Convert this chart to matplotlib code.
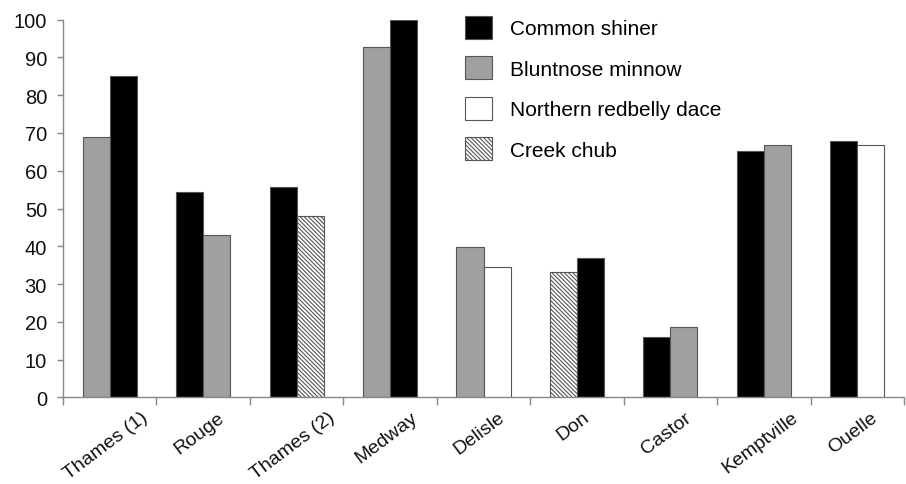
import numpy as np
import matplotlib
matplotlib.use('Agg')
import matplotlib.pyplot as plt
from matplotlib.patches import Patch
from matplotlib.transforms import ScaledTranslation

plt.rcParams['font.family'] = ['Liberation Sans', 'DejaVu Sans']
plt.rcParams['hatch.linewidth'] = 0.8
plt.rcParams['hatch.color'] = '#222222'

# percent of fish per site, two species per site (left bar, right bar)
sites = ['Thames (1)', 'Rouge', 'Thames (2)', 'Medway', 'Delisle', 'Don',
         'Castor', 'Kemptville', 'Ouelle']
left_species = ['Bluntnose minnow', 'Common shiner', 'Common shiner',
                'Bluntnose minnow', 'Bluntnose minnow', 'Creek chub',
                'Common shiner', 'Common shiner', 'Common shiner']
left_values = [69, 54.4, 55.7, 92.9, 39.8, 33.1, 16.1, 65.1, 67.8]
right_species = ['Common shiner', 'Bluntnose minnow', 'Creek chub',
                 'Common shiner', 'Northern redbelly dace', 'Common shiner',
                 'Bluntnose minnow', 'Bluntnose minnow', 'Northern redbelly dace']
right_values = [85, 43.1, 48.1, 100, 34.6, 37.0, 18.7, 66.9, 66.9]

legend_order = ['Common shiner', 'Bluntnose minnow', 'Northern redbelly dace', 'Creek chub']
edge = '#555555'
styles = {
    'Common shiner': dict(facecolor='black', edgecolor=edge),
    'Bluntnose minnow': dict(facecolor='#a0a0a0', edgecolor=edge),
    'Northern redbelly dace': dict(facecolor='white', edgecolor=edge),
    'Creek chub': dict(facecolor='white', edgecolor=edge, hatch='\\' * 8),
}

W, H = 906, 485
fig = plt.figure(figsize=(W / 100, H / 100), dpi=100)
ax = fig.add_axes([63 / W, (H - 398.3) / H, (904 - 63) / W, (398.3 - 20.7) / H])

w = 0.29
for i in range(len(sites)):
    c = i + 0.5
    ax.bar(c - w / 2, left_values[i], w, linewidth=0.8, **styles[left_species[i]])
    ax.bar(c + w / 2, right_values[i], w, linewidth=0.8, **styles[right_species[i]])

ax.set_xlim(0, len(sites))
ax.set_ylim(0, 100)

axis_grey = '#888888'
for s in ['top', 'right']:
    ax.spines[s].set_visible(False)
for s in ['left', 'bottom']:
    ax.spines[s].set_color(axis_grey)
    ax.spines[s].set_linewidth(1.0)

ax.set_yticks(np.arange(0, 101, 10))
ax.tick_params(axis='y', direction='out', length=4.5, width=1.0, color=axis_grey,
               pad=7, labelsize=14.5, labelcolor='#111111')

# category boundaries get the tick marks, names sit at the centres
ax.set_xticks(np.arange(0, len(sites) + 1))
ax.set_xticklabels([])
ax.set_xticks(np.arange(len(sites)) + 0.5, minor=True)
ax.set_xticklabels(sites, minor=True, rotation=37, ha='center', va='top',
                   fontsize=14, color='#111111')
ax.tick_params(axis='x', which='major', direction='out', length=6, width=1.0, color=axis_grey)
ax.tick_params(axis='x', which='minor', length=0, pad=8)
shift = ScaledTranslation(-0.04, 0, fig.dpi_scale_trans)
for lbl in ax.get_xticklabels(minor=True):
    lbl.set_transform(lbl.get_transform() + shift)

handles = [Patch(linewidth=0.8, label=sp, **styles[sp]) for sp in legend_order]
ax.legend(handles=handles, loc='upper left', bbox_to_anchor=(465 / W, 1 - 17 / H),
          bbox_transform=fig.transFigure, frameon=False, borderpad=0, borderaxespad=0,
          fontsize=15, handlelength=1.3, handleheight=1.3, labelspacing=0.85,
          handletextpad=0.87)

fig.savefig('out.png', dpi=100)
